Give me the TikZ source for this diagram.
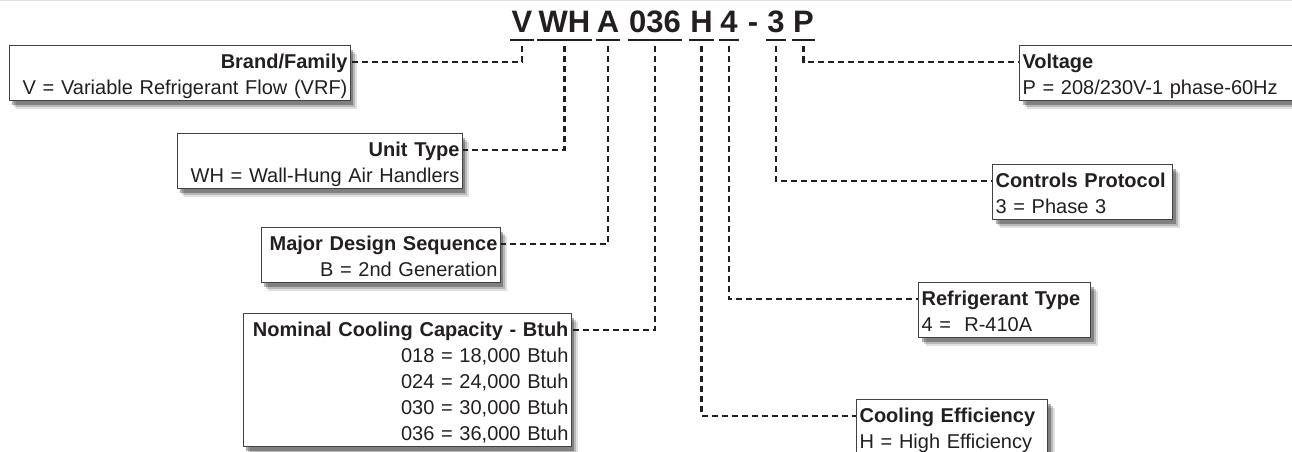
\documentclass[tikz,border=0pt]{standalone}
\usepackage{fontspec}
\setmainfont{Liberation Sans}
\usetikzlibrary{shadows}
\definecolor{ink}{HTML}{231F20}
\newcommand\topst{\rule{0pt}{22.5pt}}
\newcommand\botst{\rule[-6.5pt]{0pt}{6.5pt}}
\tikzset{
  codeseg/.style={font=\fontsize{31}{31}\selectfont\bfseries, text=ink, inner xsep=1pt, inner ysep=0pt, text depth=7pt, anchor=base},
  uline/.style={ink, line width=2.5pt},
  lead/.style={ink, line width=2.2pt, dash pattern=on 6pt off 4pt},
  infobox/.style={draw=ink!85, line width=1.1pt, fill=white, text=ink,
    font=\fontsize{20}{26}\selectfont, inner xsep=3pt, inner ysep=0pt,
    drop shadow={shadow xshift=7pt, shadow yshift=-8pt, fill=black, opacity=.12},
    drop shadow={shadow xshift=5pt, shadow yshift=-6pt, fill=black, opacity=.18},
    drop shadow={shadow xshift=3pt, shadow yshift=-4pt, fill=black, opacity=.3}},
  lbox/.style={infobox, align=right, anchor=north east},
  rbox/.style={infobox, align=left, anchor=north west},
}

\begin{document}
\begin{tikzpicture}[x=1pt,y=-1pt]
\useasboundingbox (0,0) rectangle (1292,452);
\clip (0,0) rectangle (1292,452);
\draw[black!12, line width=1.5pt] (0,0.75)--(1292,0.75);

\node[codeseg] (cV) at (522,33) {V};
\node[codeseg] (cWH) at (564.5,33) {WH};
\node[codeseg] (cA) at (608,33) {A};
\node[codeseg] (cCap) at (655,33) {036};
\node[codeseg] (cEff) at (701.5,33) {H};
\node[codeseg] (cRef) at (729,33) {4};
\node[codeseg] (cDash) at (753,33) {-};
\node[codeseg] (cCtl) at (776,33) {3};
\node[codeseg] (cVolt) at (803.5,33) {P};
\foreach \n in {cV,cWH,cA,cCap,cEff,cRef,cCtl,cVolt}
  \draw[uline] (\n.south west)--(\n.south east);

\node[lbox, text width=335pt] (brand) at (351,45) {\topst\textbf{Brand/Family}\\V = Variable Refrigerant Flow (VRF)\botst};
\node[lbox, text width=279pt] (unit) at (463,133) {\topst\textbf{Unit Type}\\WH = Wall-Hung Air Handlers\botst};
\node[lbox, text width=233pt] (major) at (501,227) {\topst\textbf{Major Design Sequence}\\B = 2nd Generation\botst};
\node[lbox, text width=322pt] (cap) at (572,313) {\topst\textbf{Nominal Cooling Capacity - Btuh}\\018 = 18,000 Btuh\\024 = 24,000 Btuh\\030 = 30,000 Btuh\\036 = 36,000 Btuh\botst};

\node[rbox, text width=294pt] (volt) at (1019,45) {\topst\textbf{Voltage}\\P = 208/230V-1 phase-60Hz\botst};
\node[rbox, text width=174pt] (ctl) at (992,164) {\topst\textbf{Controls Protocol}\\3 = Phase 3\botst};
\node[rbox, text width=166pt] (ref) at (918,282) {\topst\textbf{Refrigerant Type}\\4 =~ R-410A\botst};
\node[rbox, text width=185pt] (eff) at (856,399) {\topst\textbf{Cooling Efficiency}\\H = High Efficiency\botst};

\draw[lead] ([yshift=-6pt]cV.south) |- ([yshift=-17pt]brand.north east);
\draw[lead] ([yshift=-6pt]cWH.south) |- ([yshift=-17pt]unit.north east);
\draw[lead] ([yshift=-6pt]cA.south) |- ([yshift=-17pt]major.north east);
\draw[lead] ([yshift=-6pt]cCap.south) |- ([yshift=-17pt]cap.north east);
\draw[lead] ([yshift=-6pt]cVolt.south) |- ([yshift=-17pt]volt.north west);
\draw[lead] ([yshift=-6pt]cCtl.south) |- ([yshift=-17pt]ctl.north west);
\draw[lead] ([yshift=-6pt]cRef.south) |- ([yshift=-17pt]ref.north west);
\draw[lead] ([yshift=-6pt]cEff.south) |- ([yshift=-17pt]eff.north west);
\end{tikzpicture}
\end{document}
